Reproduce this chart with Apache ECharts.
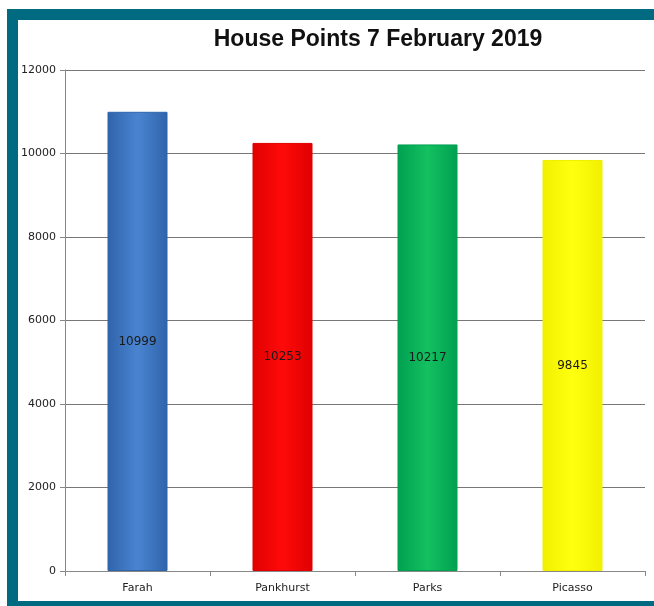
<!DOCTYPE html>
<html>
<head>
<meta charset="utf-8">
<style>
  html, body { margin: 0; padding: 0; background: #ffffff; }
  #frame {
    position: absolute; left: 7px; top: 9px; width: 636px; height: 581px;
    border-top: 11px solid #006a80; border-left: 11px solid #006a80;
    border-bottom: 5px solid #006a80; background: #ffffff;
  }
  #chart { position: absolute; left: 0; top: 0; width: 654px; height: 606px; }
</style>
<script src="https://cdn.jsdelivr.net/npm/echarts@6/dist/echarts.min.js"></script>
</head>
<body>
<div id="frame"></div>
<div id="chart"></div>
<script>
var houses = ['Farah', 'Pankhurst', 'Parks', 'Picasso'];
var points = [10999, 10253, 10217, 9845];
var barColors = [
  ['#2f64ab', '#4a84d0', '#2f64ab'],
  ['#e00000', '#ff0a0a', '#e00000'],
  ['#00a050', '#14c060', '#00a050'],
  ['#f0f000', '#ffff10', '#f0f000']
];

function shade(c) {
  return new echarts.graphic.LinearGradient(0, 0, 1, 0, [
    { offset: 0, color: c[0] },
    { offset: 0.5, color: c[1] },
    { offset: 1, color: c[2] }
  ]);
}

var chart = echarts.init(document.getElementById('chart'), null, { renderer: 'canvas' });

chart.setOption({
  animation: false,
  title: {
    text: 'House Points 7 February 2019',
    left: 373,
    top: 23,
    textAlign: 'center',
    textStyle: { fontFamily: 'Liberation Sans', fontWeight: 'bold', fontSize: 23, color: '#111' }
  },
  grid: { left: 65, right: 9, top: 70, bottom: 35 },
  xAxis: {
    type: 'category',
    data: houses,
    axisLine: { lineStyle: { color: '#888', width: 1 } },
    axisTick: { show: true, length: 5, lineStyle: { color: '#888' } },
    axisLabel: { color: '#222', fontSize: 11, margin: 12, fontFamily: 'DejaVu Sans' }
  },
  yAxis: {
    type: 'value',
    min: 0,
    max: 12000,
    interval: 2000,
    axisLine: { show: true, lineStyle: { color: '#888' } },
    axisTick: { show: true, length: 5, lineStyle: { color: '#888' } },
    axisLabel: {
      color: '#222', fontSize: 11, margin: 9, fontFamily: 'DejaVu Sans',
      formatter: function(v) { return String(v); }
    },
    splitLine: { lineStyle: { color: '#777', width: 1 } }
  },
  series: [{
    type: 'bar',
    barWidth: 60,
    data: points.map(function(v, i) {
      return { value: v, itemStyle: { color: shade(barColors[i]), borderColor: barColors[i][0], borderWidth: 1 } };
    }),
    label: {
      show: true,
      position: 'inside',
      color: '#1a1a1a',
      fontSize: 12,
      fontFamily: 'DejaVu Sans'
    }
  }]
});
</script>
</body>
</html>
